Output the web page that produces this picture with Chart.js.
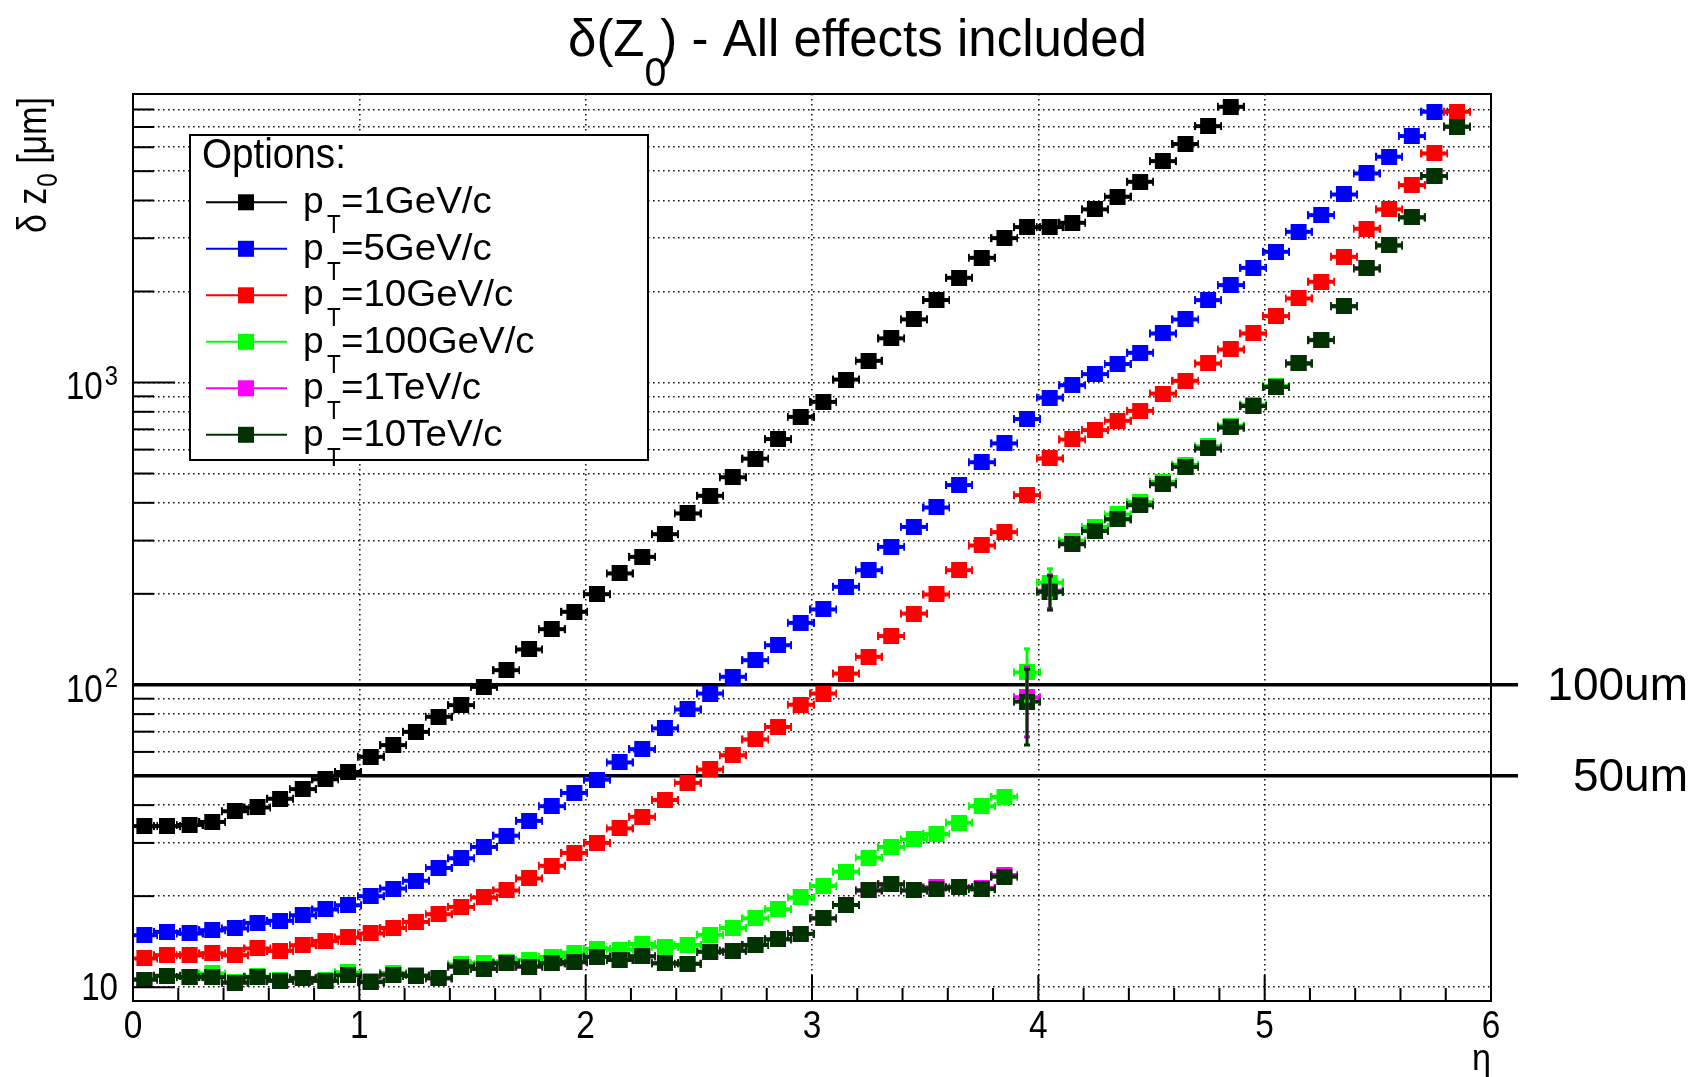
<!DOCTYPE html>
<html>
<head>
<meta charset="utf-8">
<title>delta z0 resolution</title>
<script src="https://cdn.jsdelivr.net/npm/chart.js@4.4.1/dist/chart.umd.min.js"></script>
<style>
  html, body { margin: 0; padding: 0; background: #fff; }
  #wrap { width: 1708px; height: 1077px; }
</style>
</head>
<body>
<div id="wrap"><canvas id="dz0Chart" width="1708" height="1077"></canvas></div>
<script>
// eta bin centres (bin width 0.1)
const etaBins = [
    0.05, 0.15, 0.25, 0.35, 0.45, 0.55, 0.65, 0.75, 0.85, 0.95,
    1.05, 1.15, 1.25, 1.35, 1.45, 1.55, 1.65, 1.75, 1.85, 1.95,
    2.05, 2.15, 2.25, 2.35, 2.45, 2.55, 2.65, 2.75, 2.85, 2.95,
    3.05, 3.15, 3.25, 3.35, 3.45, 3.55, 3.65, 3.75, 3.85, 3.95,
    4.05, 4.15, 4.25, 4.35, 4.45, 4.55, 4.65, 4.75, 4.85, 4.95,
    5.05, 5.15, 5.25, 5.35, 5.45, 5.55, 5.65, 5.75, 5.85
];

// delta z0 [um] per pT option
const pt1GeV = [
    34.1, 34.1, 34.4, 35.2, 38.2, 39.3, 42.0, 45.2, 48.7, 51.5,
    57.8, 63.2, 69.9, 78.4, 85.7, 98.5, 111.8, 131, 152.8, 174.4,
    199.5, 233.6, 265, 315, 369, 422, 486, 560, 650, 770,
    863, 1023, 1180, 1400, 1618, 1874, 2220, 2585, 3003, 3266,
    3266, 3375, 3738, 4116, 4613, 5400, 6147, 7050, 8165, null,
    null, null, null, null, null, null, null, null, null
];
const pt5GeV = [
    14.86, 15.24, 15.05, 15.44, 15.64, 16.32, 16.57, 17.3, 18.07, 18.67,
    20.0, 21.2, 22.5, 24.8, 26.7, 29.1, 31.7, 35.5, 39.7, 43.9,
    48.6, 55.4, 61.3, 71.8, 82.9, 93.6, 106.3, 120.7, 135.3, 160.3,
    177.6, 211, 239.5, 286, 333, 386, 458, 545, 629, 757,
    892, 980, 1066, 1151, 1254, 1453, 1617, 1873, 2100, 2395,
    2706, 3152, 3579, 4188, 4917, 5581, 6534, 7862, null
];
const pt10GeV = [
    12.44, 12.76, 12.76, 12.93, 12.76, 13.43, 13.18, 13.77, 14.23, 14.6,
    15.05, 15.7, 16.44, 17.44, 18.44, 19.8, 20.9, 22.9, 25.2, 27.8,
    30.0, 33.5, 36.6, 41.6, 47.4, 52.5, 58.5, 66, 72.6, 86,
    93.6, 109, 123.8, 145, 172, 199, 239.5, 289, 320, 424,
    561, 648, 696, 747, 806, 919, 1013, 1156, 1286, 1453,
    1658, 1897, 2154, 2605, 3226, 3738, 4497, 5724, 7862
];
const pt100GeV = [
    10.6, 10.9, 10.8, 11.1, 10.4, 10.85, 10.55, 10.75, 10.55, 11.2,
    10.5, 11.15, 10.95, 10.75, 11.9, 12.0, 12.1, 12.3, 12.6, 13.0,
    13.4, 13.3, 13.9, 13.6, 13.8, 14.9, 15.7, 16.9, 18.1, 19.8,
    21.6, 24.1, 26.8, 29.1, 30.8, 32.1, 35.0, 39.7, 42.6, 110,
    218, 300, 333, 366, 402, 470, 535, 615, 720, 845,
    975, 1160, 1385, 1790, 2390, 2845, 3520, 4820, 7020
];
const pt1TeV = [
    10.6, 10.9, 10.8, 10.8, 10.35, 10.8, 10.5, 10.7, 10.5, 10.95,
    10.4, 11.0, 10.9, 10.7, 11.7, 11.5, 12.0, 11.7, 12.0, 12.1,
    12.6, 12.3, 12.65, 12.0, 11.95, 13.1, 13.2, 13.8, 14.4, 15.0,
    16.9, 18.7, 20.9, 21.9, 20.9, 21.4, 21.4, 21.3, 23.5, 91,
    205, 292, 323, 353, 393, 461, 526, 605, 710, 836,
    967, 1156, 1381, 1789, 2384, 2841, 3517, 4818, 7015
];
const pt10TeV = [
    10.6, 10.9, 10.8, 10.8, 10.35, 10.8, 10.5, 10.7, 10.5, 10.95,
    10.4, 11.0, 10.9, 10.7, 11.7, 11.5, 12.0, 11.7, 12.0, 12.1,
    12.6, 12.3, 12.65, 12.0, 11.95, 13.1, 13.2, 13.8, 14.4, 15.0,
    16.9, 18.7, 20.9, 21.9, 20.9, 21.2, 21.4, 21.1, 23.2, 88,
    203, 292, 323, 353, 393, 461, 526, 605, 710, 836,
    967, 1156, 1381, 1789, 2384, 2841, 3517, 4818, 7015
];

// the only visible vertical error bars
const errEta = [3.95, 4.05];
const pt100GeVErr = [22, 25];
const pt1TeVErr = [24, 27];
const pt10TeVErr = [25, 27];

const legendLabels = ["1GeV/c", "5GeV/c", "10GeV/c", "100GeV/c", "1TeV/c", "10TeV/c"];
const seriesColors = ["#000000", "#0000ff", "#ff0000", "#00ff00", "#ff00ff", "#003300"];

// axes
const xTickValues = [0, 1, 2, 3, 4, 5, 6];
const yGridValues = [
    10, 20, 30, 40, 50, 60, 70, 80, 90,
    100, 200, 300, 400, 500, 600, 700, 800, 900,
    1000, 2000, 3000, 4000, 5000, 6000, 7000, 8000, 9000
];
const yLabelValues = [10, 100, 1000];
const yLabelExponents = ["", "2", "3"];

// reference lines
const refValues = [100, 50];
const refLabels = ["100um", "50um"];

const FONT = '"Liberation Sans", Arial, Helvetica, sans-serif';

// ROOT-like marker: filled square with horizontal bin-width bar and caps
function makeMarker(color) {
    const c = document.createElement("canvas");
    c.width = 28;
    c.height = 16;
    const g = c.getContext("2d");
    g.fillStyle = color;
    g.fillRect(6, 0, 16, 16);
    g.fillRect(0, 6, 28, 4);
    g.fillRect(0, 4, 2, 8);
    g.fillRect(26, 4, 2, 8);
    return c;
}

function toPoints(values) {
    return etaBins.map((x, i) => ({ x: x, y: values[i] }));
}

// draws text squeezed/stretched horizontally, like the captured ROOT canvas
function stretchText(ctx, text, x, y, size, sx, align) {
    ctx.save();
    ctx.font = size + "px " + FONT;
    const w = ctx.measureText(text).width * sx;
    let x0 = x;
    if (align === "right") x0 = x - w;
    else if (align === "center") x0 = x - w / 2;
    ctx.translate(x0, y);
    ctx.scale(sx, 1);
    ctx.textAlign = "left";
    ctx.textBaseline = "alphabetic";
    ctx.fillStyle = "#000";
    ctx.fillText(text, 0, 0);
    ctx.restore();
    return w;
}

const allSeries = [pt1GeV, pt5GeV, pt10GeV, pt100GeV, pt1TeV, pt10TeV];
const errSeries = [
    { values: pt100GeV, errs: pt100GeVErr, color: seriesColors[3] },
    { values: pt1TeV, errs: pt1TeVErr, color: seriesColors[4] },
    { values: pt10TeV, errs: pt10TeVErr, color: seriesColors[5] }
];

const rootDecor = {
    id: "rootDecor",
    beforeDatasetsDraw(chart) {
        const { ctx, chartArea, scales } = chart;
        // 100um / 50um lines
        ctx.save();
        ctx.strokeStyle = "#000";
        ctx.lineWidth = 3.5;
        refValues.forEach((v) => {
            const y = scales.y.getPixelForValue(v);
            ctx.beginPath();
            ctx.moveTo(chartArea.left, y);
            ctx.lineTo(1518, y);
            ctx.stroke();
        });
        ctx.restore();
    },
    afterDatasetsDraw(chart) {
        const { ctx, chartArea, scales } = chart;
        const xs = scales.x, ys = scales.y;

        // vertical error bars
        ctx.save();
        errSeries.forEach((s) => {
            ctx.fillStyle = s.color;
            errEta.forEach((eta, k) => {
                const idx = etaBins.indexOf(eta);
                const v = s.values[idx];
                const x = Math.round(xs.getPixelForValue(eta));
                const yTop = ys.getPixelForValue(v + s.errs[k]);
                const yBot = ys.getPixelForValue(v - s.errs[k]);
                ctx.fillRect(x - 1.5, yTop, 3, yBot - yTop);
                ctx.fillRect(x - 3, yTop - 1, 6, 3);
                ctx.fillRect(x - 3, yBot - 2, 6, 3);
            });
        });
        ctx.restore();

        // frame
        ctx.save();
        ctx.strokeStyle = "#000";
        ctx.lineWidth = 2;
        ctx.strokeRect(chartArea.left, chartArea.top, chartArea.right - chartArea.left, chartArea.bottom - chartArea.top);

        // y ticks (inside, left)
        yGridValues.forEach((v) => {
            const y = ys.getPixelForValue(v);
            const major = yLabelValues.includes(v);
            ctx.beginPath();
            ctx.moveTo(chartArea.left, y);
            ctx.lineTo(chartArea.left + (major ? 42 : 21), y);
            ctx.stroke();
        });

        // x ticks (inside, bottom), every 0.2
        for (let k = 0; k <= 30; k++) {
            const x = xs.getPixelForValue(k * 0.2);
            const major = k % 5 === 0;
            ctx.beginPath();
            ctx.moveTo(x, chartArea.bottom);
            ctx.lineTo(x, chartArea.bottom - (major ? 26 : 13));
            ctx.stroke();
        }
        ctx.restore();

        // legend box
        const lx = 190, ly = 135, lw = 458, lh = 325;
        ctx.save();
        ctx.fillStyle = "#fff";
        ctx.fillRect(lx, ly, lw, lh);
        ctx.strokeStyle = "#000";
        ctx.lineWidth = 2;
        ctx.strokeRect(lx, ly, lw, lh);
        ctx.restore();

        stretchText(ctx, "Options:", 202, 168, 42, 0.92, "left");

        legendLabels.forEach((label, i) => {
            const cy = 202.3 + i * 46.5;
            const color = seriesColors[i];
            ctx.save();
            ctx.strokeStyle = color;
            ctx.lineWidth = 2;
            ctx.beginPath();
            ctx.moveTo(206, cy);
            ctx.lineTo(287, cy);
            ctx.stroke();
            ctx.fillStyle = color;
            ctx.fillRect(238, cy - 8, 16, 16);
            ctx.restore();

            stretchText(ctx, "p", 303, cy + 11, 37, 1.0, "left");
            stretchText(ctx, "T", 327, cy + 31, 25, 0.9, "left");
            stretchText(ctx, "=" + label, 341, cy + 11, 37, 1.04, "left");
        });
    },
    afterDraw(chart) {
        const { ctx, chartArea, scales } = chart;
        const xs = scales.x, ys = scales.y;

        // title: delta(Z_0) - All effects included
        let tx = 568;
        tx += stretchText(ctx, "δ(Z", tx, 56, 51, 1.0, "left");
        tx += stretchText(ctx, "0", tx, 86, 40, 0.98, "left") - 6;
        stretchText(ctx, ") - All effects included", tx, 56, 51, 1.0, "left");

        // x tick labels
        xTickValues.forEach((v) => {
            stretchText(ctx, String(v), xs.getPixelForValue(v), 1038, 38, 0.88, "center");
        });

        // y tick labels
        yLabelValues.forEach((v, i) => {
            const y = ys.getPixelForValue(v);
            const exp = yLabelExponents[i];
            if (exp === "") {
                stretchText(ctx, "10", 118, y + 13, 39, 0.85, "right");
            } else {
                const we = stretchText(ctx, exp, 118, y + 2.5, 28, 0.85, "right");
                stretchText(ctx, "10", 118 - we - 2, y + 17, 39, 0.85, "right");
            }
        });

        // x axis title
        stretchText(ctx, "η", chartArea.right, 1070, 36, 0.95, "right");

        // y axis title (rotated): delta z_0 [um]
        ctx.save();
        ctx.translate(46, 233);
        ctx.rotate(-Math.PI / 2);
        ctx.scale(1, 1.2);
        ctx.fillStyle = "#000";
        ctx.textBaseline = "alphabetic";
        ctx.font = "34px " + FONT;
        let ax = 0;
        ctx.fillText("δ z", ax, 0);
        ax += ctx.measureText("δ z").width;
        ctx.font = "24px " + FONT;
        ctx.fillText("0", ax + 1, 9);
        ax += ctx.measureText("0").width + 1;
        ctx.font = "34px " + FONT;
        ctx.fillText(" [μm]", ax, 0);
        ctx.restore();

        // reference line labels
        ctx.save();
        ctx.fillStyle = "#000";
        ctx.font = "46px " + FONT;
        ctx.textAlign = "right";
        ctx.textBaseline = "alphabetic";
        refValues.forEach((v, i) => {
            const y = ys.getPixelForValue(v);
            ctx.fillText(refLabels[i], 1688, y + 15.5);
        });
        ctx.restore();
    }
};

const datasets = allSeries.map((values, i) => ({
    label: "pT=" + legendLabels[i],
    data: toPoints(values),
    showLine: false,
    pointStyle: makeMarker(seriesColors[i]),
    pointRadius: 8,
    pointHoverRadius: 8,
    order: allSeries.length - i
}));

const gridStyle = {
    color: "rgba(0,0,0,0.9)",
    lineWidth: 1.6,
    drawTicks: false
};

new Chart(document.getElementById("dz0Chart"), {
    type: "scatter",
    data: { datasets: datasets },
    options: {
        responsive: false,
        animation: false,
        devicePixelRatio: 1,
        events: [],
        layout: { padding: { left: 0, right: 217, top: 94, bottom: 0 } },
        plugins: {
            legend: { display: false },
            tooltip: { enabled: false },
            title: { display: false }
        },
        scales: {
            x: {
                type: "linear",
                min: 0,
                max: 6,
                ticks: { display: false, stepSize: 1, autoSkip: false },
                grid: gridStyle,
                border: { display: false, dash: [1.6, 3.4] },
                afterFit: (scale) => { scale.height = 76; }
            },
            y: {
                type: "logarithmic",
                min: 9,
                max: 9000,
                ticks: { display: false, autoSkip: false },
                grid: gridStyle,
                border: { display: false, dash: [1.6, 3.4] },
                afterBuildTicks: (scale) => {
                    scale.ticks = yGridValues.map((v) => ({ value: v }));
                },
                afterFit: (scale) => { scale.width = 133; }
            }
        }
    },
    plugins: [rootDecor]
});
</script>
</body>
</html>
